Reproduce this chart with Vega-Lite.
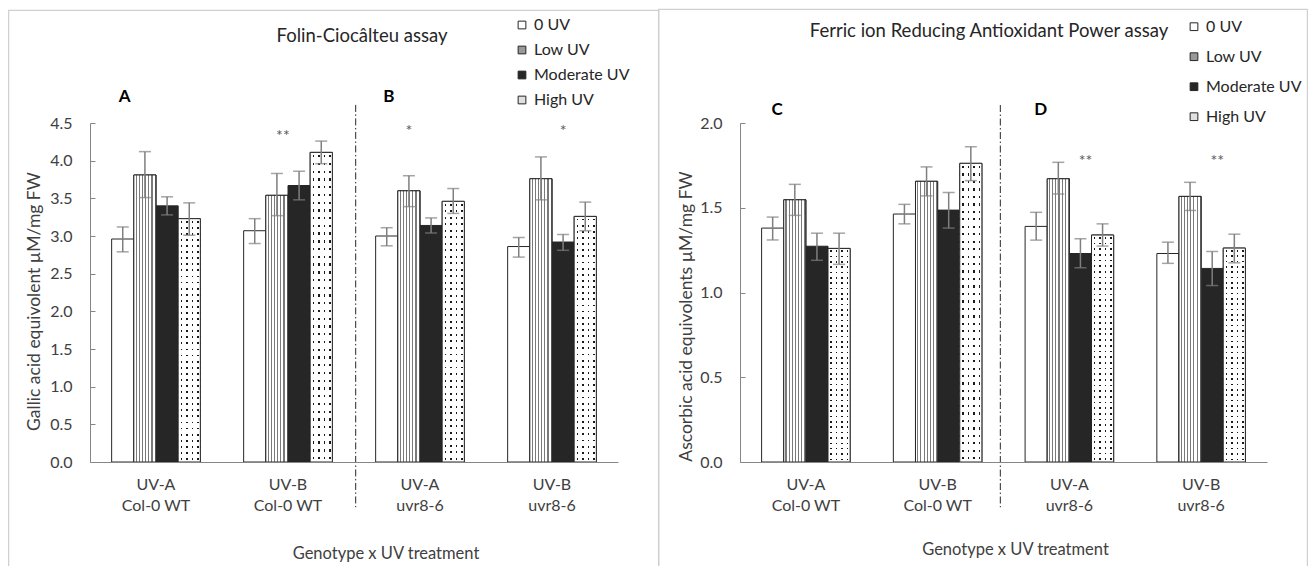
{
"$schema":"https://vega.github.io/schema/vega-lite/v6.json",
"background":"white",
"padding":{"left":8,"top":8,"right":0,"bottom":0},
"spacing":122,
"bounds":"flush",
"resolve":{"scale":{"x":"independent","y":"independent","xOffset":"independent","fill":"independent"},"legend":{"fill":"independent"}},
"config":{
 "font":"Lato",
 "view":{"stroke":null},
 "title":{"fontSize":18.5,"fontWeight":"normal","color":"#262626","font":"Lato"},
 "axis":{"grid":false,"domainColor":"#868686","domainWidth":1,"tickColor":"#868686","labelColor":"#404040","titleColor":"#404040","labelFontSize":16,"titleFontSize":16.5,"titleFontWeight":"normal","labelFont":"Lato","titleFont":"Lato","labelOverlap":false},
 "axisX":{"ticks":false,"labelAngle":0,"labelPadding":14,"labelLineHeight":21.7,"titleBaseline":"middle"},
 "axisY":{"tickSize":-5,"labelPadding":23,"titleBaseline":"middle","titleFontSize":17.5},
 "legend":{"labelFontSize":16,"labelColor":"#262626","labelFont":"Lato","symbolType":"square","symbolSize":60,"symbolStrokeColor":"#262626","symbolStrokeWidth":1,"labelOffset":4}
},
"datasets":{
"fc":[
{"group":"UV-A|Col-0 WT","treatment":"0 UV","value":2.96,"lo":2.79,"hi":3.12},
{"group":"UV-A|Col-0 WT","treatment":"Low UV","value":3.81,"lo":3.51,"hi":4.12},
{"group":"UV-A|Col-0 WT","treatment":"Moderate UV","value":3.40,"lo":3.28,"hi":3.52},
{"group":"UV-A|Col-0 WT","treatment":"High UV","value":3.23,"lo":3.01,"hi":3.44},
{"group":"UV-B|Col-0 WT","treatment":"0 UV","value":3.07,"lo":2.90,"hi":3.23},
{"group":"UV-B|Col-0 WT","treatment":"Low UV","value":3.54,"lo":3.27,"hi":3.83},
{"group":"UV-B|Col-0 WT","treatment":"Moderate UV","value":3.67,"lo":3.48,"hi":3.86},
{"group":"UV-B|Col-0 WT","treatment":"High UV","value":4.11,"lo":3.96,"hi":4.26},
{"group":"UV-A|uvr8-6","treatment":"0 UV","value":3.00,"lo":2.87,"hi":3.11},
{"group":"UV-A|uvr8-6","treatment":"Low UV","value":3.60,"lo":3.39,"hi":3.80},
{"group":"UV-A|uvr8-6","treatment":"Moderate UV","value":3.14,"lo":3.04,"hi":3.24},
{"group":"UV-A|uvr8-6","treatment":"High UV","value":3.46,"lo":3.30,"hi":3.63},
{"group":"UV-B|uvr8-6","treatment":"0 UV","value":2.86,"lo":2.72,"hi":2.98},
{"group":"UV-B|uvr8-6","treatment":"Low UV","value":3.76,"lo":3.48,"hi":4.05},
{"group":"UV-B|uvr8-6","treatment":"Moderate UV","value":2.92,"lo":2.81,"hi":3.02},
{"group":"UV-B|uvr8-6","treatment":"High UV","value":3.26,"lo":3.07,"hi":3.45}
],
"frap":[
{"group":"UV-A|Col-0 WT","treatment":"0 UV","value":1.38,"lo":1.31,"hi":1.445},
{"group":"UV-A|Col-0 WT","treatment":"Low UV","value":1.547,"lo":1.455,"hi":1.638},
{"group":"UV-A|Col-0 WT","treatment":"Moderate UV","value":1.273,"lo":1.19,"hi":1.35},
{"group":"UV-A|Col-0 WT","treatment":"High UV","value":1.26,"lo":1.166,"hi":1.35},
{"group":"UV-B|Col-0 WT","treatment":"0 UV","value":1.463,"lo":1.405,"hi":1.52},
{"group":"UV-B|Col-0 WT","treatment":"Low UV","value":1.656,"lo":1.57,"hi":1.741},
{"group":"UV-B|Col-0 WT","treatment":"Moderate UV","value":1.486,"lo":1.38,"hi":1.59},
{"group":"UV-B|Col-0 WT","treatment":"High UV","value":1.762,"lo":1.66,"hi":1.86},
{"group":"UV-A|uvr8-6","treatment":"0 UV","value":1.39,"lo":1.309,"hi":1.473},
{"group":"UV-A|uvr8-6","treatment":"Low UV","value":1.671,"lo":1.581,"hi":1.768},
{"group":"UV-A|uvr8-6","treatment":"Moderate UV","value":1.23,"lo":1.146,"hi":1.317},
{"group":"UV-A|uvr8-6","treatment":"High UV","value":1.339,"lo":1.274,"hi":1.405},
{"group":"UV-B|uvr8-6","treatment":"0 UV","value":1.23,"lo":1.172,"hi":1.297},
{"group":"UV-B|uvr8-6","treatment":"Low UV","value":1.567,"lo":1.484,"hi":1.65},
{"group":"UV-B|uvr8-6","treatment":"Moderate UV","value":1.142,"lo":1.041,"hi":1.242},
{"group":"UV-B|uvr8-6","treatment":"High UV","value":1.262,"lo":1.175,"hi":1.344}
]
},
"hconcat":[
{
 "width":528,"height":339,
 "title":{"text":"Folin-Ciocâlteu assay","frame":"group","anchor":"middle","dx":8,"offset":-35.5},
 "encoding":{"x":{"field":"group","type":"nominal","title":"Genotype x UV treatment","scale":{"domain":["UV-A|Col-0 WT","UV-B|Col-0 WT","UV-A|uvr8-6","UV-B|uvr8-6"],"paddingInner":0.328,"paddingOuter":0.164},"axis":{"labelExpr":"split(datum.label, '|')","titleX":295.5,"titleY":91}}},
 "layer":[
  {"data":{"values":[{}]},"mark":{"type":"rect","filled":false,"stroke":"#cfcfcf","strokeWidth":1.2},
   "encoding":{"x":{"datum":"UV-A|Col-0 WT","type":"nominal","bandPosition":-1.161,"title":"Genotype x UV treatment"},"x2":{"datum":"UV-B|uvr8-6","bandPosition":1.703},"y":{"datum":5.996,"type":"quantitative","title":"Gallic acid equivolent  µM/mg FW"},"y2":{"datum":-1.84}}},
  {"data":{"name":"fc"},"mark":{"type":"bar","stroke":"#262626","strokeWidth":1},
   "encoding":{
    "xOffset":{"field":"treatment","type":"nominal","scale":{"domain":["0 UV","Low UV","Moderate UV","High UV"],"paddingInner":0,"paddingOuter":0}},
    "y":{"field":"value","type":"quantitative","title":"Gallic acid equivolent  µM/mg FW","scale":{"domain":[0,4.5],"nice":false},"axis":{"values":[0,0.5,1,1.5,2,2.5,3,3.5,4,4.5],"tickCount":12,"format":".1f","labelOverlap":false,"titleX":-56,"titleY":178}},
    "fill":{"field":"treatment","type":"nominal","scale":{"domain":["0 UV","Low UV","Moderate UV","High UV"],"range":["#ffffff","#999999","#262626","#e0e0e0"]},"legend":{"orient":"none","legendX":424,"legendY":-106,"title":null,"rowPadding":9}}
   }},
  {"data":{"name":"fc"},"transform":[{"filter":"datum.treatment === 'Low UV'"}],
   "mark":{"type":"bar","stroke":"#262626","strokeWidth":1,"fill":{"gradient":"linear","x1":0,"y1":0,"x2":1,"y2":0,"stops":[
{"offset":0,"color":"#ffffff"},
{"offset":0.079,"color":"#ffffff"},{"offset":0.079,"color":"#7a7a7a"},{"offset":0.129,"color":"#7a7a7a"},{"offset":0.129,"color":"#ffffff"},
{"offset":0.221,"color":"#ffffff"},{"offset":0.221,"color":"#7a7a7a"},{"offset":0.271,"color":"#7a7a7a"},{"offset":0.271,"color":"#ffffff"},
{"offset":0.364,"color":"#ffffff"},{"offset":0.364,"color":"#7a7a7a"},{"offset":0.414,"color":"#7a7a7a"},{"offset":0.414,"color":"#ffffff"},
{"offset":0.507,"color":"#ffffff"},{"offset":0.507,"color":"#7a7a7a"},{"offset":0.557,"color":"#7a7a7a"},{"offset":0.557,"color":"#ffffff"},
{"offset":0.650,"color":"#ffffff"},{"offset":0.650,"color":"#7a7a7a"},{"offset":0.700,"color":"#7a7a7a"},{"offset":0.700,"color":"#ffffff"},
{"offset":0.793,"color":"#ffffff"},{"offset":0.793,"color":"#7a7a7a"},{"offset":0.843,"color":"#7a7a7a"},{"offset":0.843,"color":"#ffffff"},
{"offset":0.936,"color":"#ffffff"},{"offset":0.936,"color":"#7a7a7a"},{"offset":0.986,"color":"#7a7a7a"},{"offset":0.986,"color":"#ffffff"},
{"offset":1,"color":"#ffffff"}]}},
   "encoding":{"xOffset":{"field":"treatment","type":"nominal"},"y":{"field":"value","type":"quantitative","title":"Gallic acid equivolent  µM/mg FW"}}},
  {"data":{"name":"fc"},"transform":[{"filter":"datum.treatment === 'High UV'"}],
   "mark":{"type":"bar","strokeWidth":0,"fill":{"gradient":"linear","x1":0,"y1":0,"x2":1,"y2":0,"stops":[
{"offset":0,"color":"#ffffff"},
{"offset":0.105,"color":"#ffffff"},{"offset":0.105,"color":"#1a1a1a"},{"offset":0.175,"color":"#1a1a1a"},{"offset":0.175,"color":"#ffffff"},
{"offset":0.355,"color":"#ffffff"},{"offset":0.355,"color":"#1a1a1a"},{"offset":0.425,"color":"#1a1a1a"},{"offset":0.425,"color":"#ffffff"},
{"offset":0.605,"color":"#ffffff"},{"offset":0.605,"color":"#1a1a1a"},{"offset":0.675,"color":"#1a1a1a"},{"offset":0.675,"color":"#ffffff"},
{"offset":0.855,"color":"#ffffff"},{"offset":0.855,"color":"#1a1a1a"},{"offset":0.925,"color":"#1a1a1a"},{"offset":0.925,"color":"#ffffff"},
{"offset":1,"color":"#ffffff"}]}},
   "encoding":{"xOffset":{"field":"treatment","type":"nominal"},"y":{"field":"value","type":"quantitative","title":"Gallic acid equivolent  µM/mg FW"}}},
  {"data":{"name":"fc"},"transform":[{"filter":"datum.treatment === 'High UV'"}],
   "mark":{"type":"bar","stroke":"#262626","strokeWidth":1,"fill":{"gradient":"linear","x1":0,"y1":0,"x2":0,"y2":1,"stops":[
{"offset":0,"color":"#ffffff"},
{"offset":0.00875,"color":"#ffffff"},{"offset":0.00875,"color":"rgba(255,255,255,0)"},{"offset":0.01625,"color":"rgba(255,255,255,0)"},{"offset":0.01625,"color":"#ffffff"},
{"offset":0.03375,"color":"#ffffff"},{"offset":0.03375,"color":"rgba(255,255,255,0)"},{"offset":0.04125,"color":"rgba(255,255,255,0)"},{"offset":0.04125,"color":"#ffffff"},
{"offset":0.05875,"color":"#ffffff"},{"offset":0.05875,"color":"rgba(255,255,255,0)"},{"offset":0.06625,"color":"rgba(255,255,255,0)"},{"offset":0.06625,"color":"#ffffff"},
{"offset":0.08375,"color":"#ffffff"},{"offset":0.08375,"color":"rgba(255,255,255,0)"},{"offset":0.09125,"color":"rgba(255,255,255,0)"},{"offset":0.09125,"color":"#ffffff"},
{"offset":0.10875,"color":"#ffffff"},{"offset":0.10875,"color":"rgba(255,255,255,0)"},{"offset":0.11625,"color":"rgba(255,255,255,0)"},{"offset":0.11625,"color":"#ffffff"},
{"offset":0.13375,"color":"#ffffff"},{"offset":0.13375,"color":"rgba(255,255,255,0)"},{"offset":0.14125,"color":"rgba(255,255,255,0)"},{"offset":0.14125,"color":"#ffffff"},
{"offset":0.15875,"color":"#ffffff"},{"offset":0.15875,"color":"rgba(255,255,255,0)"},{"offset":0.16625,"color":"rgba(255,255,255,0)"},{"offset":0.16625,"color":"#ffffff"},
{"offset":0.18375,"color":"#ffffff"},{"offset":0.18375,"color":"rgba(255,255,255,0)"},{"offset":0.19125,"color":"rgba(255,255,255,0)"},{"offset":0.19125,"color":"#ffffff"},
{"offset":0.20875,"color":"#ffffff"},{"offset":0.20875,"color":"rgba(255,255,255,0)"},{"offset":0.21625,"color":"rgba(255,255,255,0)"},{"offset":0.21625,"color":"#ffffff"},
{"offset":0.23375,"color":"#ffffff"},{"offset":0.23375,"color":"rgba(255,255,255,0)"},{"offset":0.24125,"color":"rgba(255,255,255,0)"},{"offset":0.24125,"color":"#ffffff"},
{"offset":0.25875,"color":"#ffffff"},{"offset":0.25875,"color":"rgba(255,255,255,0)"},{"offset":0.26625,"color":"rgba(255,255,255,0)"},{"offset":0.26625,"color":"#ffffff"},
{"offset":0.28375,"color":"#ffffff"},{"offset":0.28375,"color":"rgba(255,255,255,0)"},{"offset":0.29125,"color":"rgba(255,255,255,0)"},{"offset":0.29125,"color":"#ffffff"},
{"offset":0.30875,"color":"#ffffff"},{"offset":0.30875,"color":"rgba(255,255,255,0)"},{"offset":0.31625,"color":"rgba(255,255,255,0)"},{"offset":0.31625,"color":"#ffffff"},
{"offset":0.33375,"color":"#ffffff"},{"offset":0.33375,"color":"rgba(255,255,255,0)"},{"offset":0.34125,"color":"rgba(255,255,255,0)"},{"offset":0.34125,"color":"#ffffff"},
{"offset":0.35875,"color":"#ffffff"},{"offset":0.35875,"color":"rgba(255,255,255,0)"},{"offset":0.36625,"color":"rgba(255,255,255,0)"},{"offset":0.36625,"color":"#ffffff"},
{"offset":0.38375,"color":"#ffffff"},{"offset":0.38375,"color":"rgba(255,255,255,0)"},{"offset":0.39125,"color":"rgba(255,255,255,0)"},{"offset":0.39125,"color":"#ffffff"},
{"offset":0.40875,"color":"#ffffff"},{"offset":0.40875,"color":"rgba(255,255,255,0)"},{"offset":0.41625,"color":"rgba(255,255,255,0)"},{"offset":0.41625,"color":"#ffffff"},
{"offset":0.43375,"color":"#ffffff"},{"offset":0.43375,"color":"rgba(255,255,255,0)"},{"offset":0.44125,"color":"rgba(255,255,255,0)"},{"offset":0.44125,"color":"#ffffff"},
{"offset":0.45875,"color":"#ffffff"},{"offset":0.45875,"color":"rgba(255,255,255,0)"},{"offset":0.46625,"color":"rgba(255,255,255,0)"},{"offset":0.46625,"color":"#ffffff"},
{"offset":0.48375,"color":"#ffffff"},{"offset":0.48375,"color":"rgba(255,255,255,0)"},{"offset":0.49125,"color":"rgba(255,255,255,0)"},{"offset":0.49125,"color":"#ffffff"},
{"offset":0.50875,"color":"#ffffff"},{"offset":0.50875,"color":"rgba(255,255,255,0)"},{"offset":0.51625,"color":"rgba(255,255,255,0)"},{"offset":0.51625,"color":"#ffffff"},
{"offset":0.53375,"color":"#ffffff"},{"offset":0.53375,"color":"rgba(255,255,255,0)"},{"offset":0.54125,"color":"rgba(255,255,255,0)"},{"offset":0.54125,"color":"#ffffff"},
{"offset":0.55875,"color":"#ffffff"},{"offset":0.55875,"color":"rgba(255,255,255,0)"},{"offset":0.56625,"color":"rgba(255,255,255,0)"},{"offset":0.56625,"color":"#ffffff"},
{"offset":0.58375,"color":"#ffffff"},{"offset":0.58375,"color":"rgba(255,255,255,0)"},{"offset":0.59125,"color":"rgba(255,255,255,0)"},{"offset":0.59125,"color":"#ffffff"},
{"offset":0.60875,"color":"#ffffff"},{"offset":0.60875,"color":"rgba(255,255,255,0)"},{"offset":0.61625,"color":"rgba(255,255,255,0)"},{"offset":0.61625,"color":"#ffffff"},
{"offset":0.63375,"color":"#ffffff"},{"offset":0.63375,"color":"rgba(255,255,255,0)"},{"offset":0.64125,"color":"rgba(255,255,255,0)"},{"offset":0.64125,"color":"#ffffff"},
{"offset":0.65875,"color":"#ffffff"},{"offset":0.65875,"color":"rgba(255,255,255,0)"},{"offset":0.66625,"color":"rgba(255,255,255,0)"},{"offset":0.66625,"color":"#ffffff"},
{"offset":0.68375,"color":"#ffffff"},{"offset":0.68375,"color":"rgba(255,255,255,0)"},{"offset":0.69125,"color":"rgba(255,255,255,0)"},{"offset":0.69125,"color":"#ffffff"},
{"offset":0.70875,"color":"#ffffff"},{"offset":0.70875,"color":"rgba(255,255,255,0)"},{"offset":0.71625,"color":"rgba(255,255,255,0)"},{"offset":0.71625,"color":"#ffffff"},
{"offset":0.73375,"color":"#ffffff"},{"offset":0.73375,"color":"rgba(255,255,255,0)"},{"offset":0.74125,"color":"rgba(255,255,255,0)"},{"offset":0.74125,"color":"#ffffff"},
{"offset":0.75875,"color":"#ffffff"},{"offset":0.75875,"color":"rgba(255,255,255,0)"},{"offset":0.76625,"color":"rgba(255,255,255,0)"},{"offset":0.76625,"color":"#ffffff"},
{"offset":0.78375,"color":"#ffffff"},{"offset":0.78375,"color":"rgba(255,255,255,0)"},{"offset":0.79125,"color":"rgba(255,255,255,0)"},{"offset":0.79125,"color":"#ffffff"},
{"offset":0.80875,"color":"#ffffff"},{"offset":0.80875,"color":"rgba(255,255,255,0)"},{"offset":0.81625,"color":"rgba(255,255,255,0)"},{"offset":0.81625,"color":"#ffffff"},
{"offset":0.83375,"color":"#ffffff"},{"offset":0.83375,"color":"rgba(255,255,255,0)"},{"offset":0.84125,"color":"rgba(255,255,255,0)"},{"offset":0.84125,"color":"#ffffff"},
{"offset":0.85875,"color":"#ffffff"},{"offset":0.85875,"color":"rgba(255,255,255,0)"},{"offset":0.86625,"color":"rgba(255,255,255,0)"},{"offset":0.86625,"color":"#ffffff"},
{"offset":0.88375,"color":"#ffffff"},{"offset":0.88375,"color":"rgba(255,255,255,0)"},{"offset":0.89125,"color":"rgba(255,255,255,0)"},{"offset":0.89125,"color":"#ffffff"},
{"offset":0.90875,"color":"#ffffff"},{"offset":0.90875,"color":"rgba(255,255,255,0)"},{"offset":0.91625,"color":"rgba(255,255,255,0)"},{"offset":0.91625,"color":"#ffffff"},
{"offset":0.93375,"color":"#ffffff"},{"offset":0.93375,"color":"rgba(255,255,255,0)"},{"offset":0.94125,"color":"rgba(255,255,255,0)"},{"offset":0.94125,"color":"#ffffff"},
{"offset":0.95875,"color":"#ffffff"},{"offset":0.95875,"color":"rgba(255,255,255,0)"},{"offset":0.96625,"color":"rgba(255,255,255,0)"},{"offset":0.96625,"color":"#ffffff"},
{"offset":0.98375,"color":"#ffffff"},{"offset":0.98375,"color":"rgba(255,255,255,0)"},{"offset":0.99125,"color":"rgba(255,255,255,0)"},{"offset":0.99125,"color":"#ffffff"},
{"offset":1,"color":"#ffffff"}]}},
   "encoding":{"xOffset":{"field":"treatment","type":"nominal"},"y":{"field":"value","type":"quantitative","title":"Gallic acid equivolent  µM/mg FW"}}},
  {"data":{"name":"fc"},"mark":{"type":"rule","color":"#7f7f7f","strokeWidth":1.5},
   "encoding":{"xOffset":{"field":"treatment","type":"nominal"},"y":{"field":"lo","type":"quantitative","title":"Gallic acid equivolent  µM/mg FW"},"y2":{"field":"hi"}}},
  {"data":{"name":"fc"},"mark":{"type":"tick","color":"#7f7f7f","thickness":1.5,"size":12},
   "encoding":{"xOffset":{"field":"treatment","type":"nominal"},"y":{"field":"lo","type":"quantitative","title":"Gallic acid equivolent  µM/mg FW"}}},
  {"data":{"name":"fc"},"mark":{"type":"tick","color":"#7f7f7f","thickness":1.5,"size":12},
   "encoding":{"xOffset":{"field":"treatment","type":"nominal"},"y":{"field":"hi","type":"quantitative","title":"Gallic acid equivolent  µM/mg FW"}}},
  {"data":{"values":[{}]},"mark":{"type":"rule","color":"#262626","strokeWidth":1,"strokeDash":[7,2.5,1.5,2.5]},
   "encoding":{"x":{"datum":"UV-A|uvr8-6","type":"nominal","bandPosition":-0.225,"title":"Genotype x UV treatment"},"y":{"datum":4.74,"type":"quantitative","title":"Gallic acid equivolent  µM/mg FW"},"y2":{"datum":-0.6}}},
  {"data":{"values":[{"group":"UV-A|Col-0 WT","treatment":"0 UV","label":"A"},{"group":"UV-A|uvr8-6","treatment":"0 UV","label":"B"}]},
   "mark":{"type":"text","fontSize":17,"fontWeight":"bold","color":"#000000","baseline":"middle","dx":2},
   "encoding":{"xOffset":{"field":"treatment","type":"nominal"},"y":{"datum":4.844,"type":"quantitative","title":"Gallic acid equivolent  µM/mg FW"},"text":{"field":"label"}}},
  {"data":{"values":[{"group":"UV-B|Col-0 WT","treatment":"Low UV","label":"**"}]},
   "mark":{"type":"text","fontSize":16,"color":"#595959","baseline":"middle","dx":6},
   "encoding":{"xOffset":{"field":"treatment","type":"nominal"},"y":{"datum":4.333,"type":"quantitative","title":"Gallic acid equivolent  µM/mg FW"},"text":{"field":"label"}}},
  {"data":{"values":[{"group":"UV-A|uvr8-6","treatment":"Low UV","label":"*"},{"group":"UV-B|uvr8-6","treatment":"Moderate UV","label":"*"}]},
   "mark":{"type":"text","fontSize":16,"color":"#595959","baseline":"middle"},
   "encoding":{"xOffset":{"field":"treatment","type":"nominal"},"y":{"datum":4.40,"type":"quantitative","title":"Gallic acid equivolent  µM/mg FW"},"text":{"field":"label"}}}
 ]
},
{
 "width":527,"height":339,
 "title":{"text":"Ferric ion Reducing Antioxidant Power assay","frame":"group","anchor":"middle","dx":-14.5,"offset":-31.7},
 "encoding":{"x":{"field":"group","type":"nominal","title":"Genotype x UV treatment","scale":{"domain":["UV-A|Col-0 WT","UV-B|Col-0 WT","UV-A|uvr8-6","UV-B|uvr8-6"],"paddingInner":0.328,"paddingOuter":0.164},"axis":{"labelExpr":"split(datum.label, '|')","titleX":275,"titleY":87}}},
 "layer":[
  {"data":{"values":[{}]},"mark":{"type":"rect","filled":false,"stroke":"#cfcfcf","strokeWidth":1.2},
   "encoding":{"x":{"datum":"UV-A|Col-0 WT","type":"nominal","bandPosition":-1.163,"title":"Genotype x UV treatment"},"x2":{"datum":"UV-B|uvr8-6","bandPosition":1.70},"y":{"datum":2.67,"type":"quantitative","title":"Ascorbic acid equivolents µM/mg FW"},"y2":{"datum":-0.82}}},
  {"data":{"name":"frap"},"mark":{"type":"bar","stroke":"#262626","strokeWidth":1},
   "encoding":{
    "xOffset":{"field":"treatment","type":"nominal","scale":{"domain":["0 UV","Low UV","Moderate UV","High UV"],"paddingInner":0,"paddingOuter":0}},
    "y":{"field":"value","type":"quantitative","title":"Ascorbic acid equivolents µM/mg FW","scale":{"domain":[0,2],"nice":false},"axis":{"values":[0,0.5,1,1.5,2],"tickCount":12,"format":".1f","labelOverlap":false,"titleX":-53.6,"titleY":193}},
    "fill":{"field":"treatment","type":"nominal","scale":{"domain":["0 UV","Low UV","Moderate UV","High UV"],"range":["#ffffff","#999999","#262626","#e0e0e0"]},"legend":{"orient":"none","legendX":446,"legendY":-104.3,"title":null,"rowPadding":14}}
   }},
  {"data":{"name":"frap"},"transform":[{"filter":"datum.treatment === 'Low UV'"}],
   "mark":{"type":"bar","stroke":"#262626","strokeWidth":1,"fill":{"gradient":"linear","x1":0,"y1":0,"x2":1,"y2":0,"stops":[
{"offset":0,"color":"#ffffff"},
{"offset":0.079,"color":"#ffffff"},{"offset":0.079,"color":"#7a7a7a"},{"offset":0.129,"color":"#7a7a7a"},{"offset":0.129,"color":"#ffffff"},
{"offset":0.221,"color":"#ffffff"},{"offset":0.221,"color":"#7a7a7a"},{"offset":0.271,"color":"#7a7a7a"},{"offset":0.271,"color":"#ffffff"},
{"offset":0.364,"color":"#ffffff"},{"offset":0.364,"color":"#7a7a7a"},{"offset":0.414,"color":"#7a7a7a"},{"offset":0.414,"color":"#ffffff"},
{"offset":0.507,"color":"#ffffff"},{"offset":0.507,"color":"#7a7a7a"},{"offset":0.557,"color":"#7a7a7a"},{"offset":0.557,"color":"#ffffff"},
{"offset":0.650,"color":"#ffffff"},{"offset":0.650,"color":"#7a7a7a"},{"offset":0.700,"color":"#7a7a7a"},{"offset":0.700,"color":"#ffffff"},
{"offset":0.793,"color":"#ffffff"},{"offset":0.793,"color":"#7a7a7a"},{"offset":0.843,"color":"#7a7a7a"},{"offset":0.843,"color":"#ffffff"},
{"offset":0.936,"color":"#ffffff"},{"offset":0.936,"color":"#7a7a7a"},{"offset":0.986,"color":"#7a7a7a"},{"offset":0.986,"color":"#ffffff"},
{"offset":1,"color":"#ffffff"}]}},
   "encoding":{"xOffset":{"field":"treatment","type":"nominal"},"y":{"field":"value","type":"quantitative","title":"Ascorbic acid equivolents µM/mg FW"}}},
  {"data":{"name":"frap"},"transform":[{"filter":"datum.treatment === 'High UV'"}],
   "mark":{"type":"bar","strokeWidth":0,"fill":{"gradient":"linear","x1":0,"y1":0,"x2":1,"y2":0,"stops":[
{"offset":0,"color":"#ffffff"},
{"offset":0.105,"color":"#ffffff"},{"offset":0.105,"color":"#1a1a1a"},{"offset":0.175,"color":"#1a1a1a"},{"offset":0.175,"color":"#ffffff"},
{"offset":0.355,"color":"#ffffff"},{"offset":0.355,"color":"#1a1a1a"},{"offset":0.425,"color":"#1a1a1a"},{"offset":0.425,"color":"#ffffff"},
{"offset":0.605,"color":"#ffffff"},{"offset":0.605,"color":"#1a1a1a"},{"offset":0.675,"color":"#1a1a1a"},{"offset":0.675,"color":"#ffffff"},
{"offset":0.855,"color":"#ffffff"},{"offset":0.855,"color":"#1a1a1a"},{"offset":0.925,"color":"#1a1a1a"},{"offset":0.925,"color":"#ffffff"},
{"offset":1,"color":"#ffffff"}]}},
   "encoding":{"xOffset":{"field":"treatment","type":"nominal"},"y":{"field":"value","type":"quantitative","title":"Ascorbic acid equivolents µM/mg FW"}}},
  {"data":{"name":"frap"},"transform":[{"filter":"datum.treatment === 'High UV'"}],
   "mark":{"type":"bar","stroke":"#262626","strokeWidth":1,"fill":{"gradient":"linear","x1":0,"y1":0,"x2":0,"y2":1,"stops":[
{"offset":0,"color":"#ffffff"},
{"offset":0.00875,"color":"#ffffff"},{"offset":0.00875,"color":"rgba(255,255,255,0)"},{"offset":0.01625,"color":"rgba(255,255,255,0)"},{"offset":0.01625,"color":"#ffffff"},
{"offset":0.03375,"color":"#ffffff"},{"offset":0.03375,"color":"rgba(255,255,255,0)"},{"offset":0.04125,"color":"rgba(255,255,255,0)"},{"offset":0.04125,"color":"#ffffff"},
{"offset":0.05875,"color":"#ffffff"},{"offset":0.05875,"color":"rgba(255,255,255,0)"},{"offset":0.06625,"color":"rgba(255,255,255,0)"},{"offset":0.06625,"color":"#ffffff"},
{"offset":0.08375,"color":"#ffffff"},{"offset":0.08375,"color":"rgba(255,255,255,0)"},{"offset":0.09125,"color":"rgba(255,255,255,0)"},{"offset":0.09125,"color":"#ffffff"},
{"offset":0.10875,"color":"#ffffff"},{"offset":0.10875,"color":"rgba(255,255,255,0)"},{"offset":0.11625,"color":"rgba(255,255,255,0)"},{"offset":0.11625,"color":"#ffffff"},
{"offset":0.13375,"color":"#ffffff"},{"offset":0.13375,"color":"rgba(255,255,255,0)"},{"offset":0.14125,"color":"rgba(255,255,255,0)"},{"offset":0.14125,"color":"#ffffff"},
{"offset":0.15875,"color":"#ffffff"},{"offset":0.15875,"color":"rgba(255,255,255,0)"},{"offset":0.16625,"color":"rgba(255,255,255,0)"},{"offset":0.16625,"color":"#ffffff"},
{"offset":0.18375,"color":"#ffffff"},{"offset":0.18375,"color":"rgba(255,255,255,0)"},{"offset":0.19125,"color":"rgba(255,255,255,0)"},{"offset":0.19125,"color":"#ffffff"},
{"offset":0.20875,"color":"#ffffff"},{"offset":0.20875,"color":"rgba(255,255,255,0)"},{"offset":0.21625,"color":"rgba(255,255,255,0)"},{"offset":0.21625,"color":"#ffffff"},
{"offset":0.23375,"color":"#ffffff"},{"offset":0.23375,"color":"rgba(255,255,255,0)"},{"offset":0.24125,"color":"rgba(255,255,255,0)"},{"offset":0.24125,"color":"#ffffff"},
{"offset":0.25875,"color":"#ffffff"},{"offset":0.25875,"color":"rgba(255,255,255,0)"},{"offset":0.26625,"color":"rgba(255,255,255,0)"},{"offset":0.26625,"color":"#ffffff"},
{"offset":0.28375,"color":"#ffffff"},{"offset":0.28375,"color":"rgba(255,255,255,0)"},{"offset":0.29125,"color":"rgba(255,255,255,0)"},{"offset":0.29125,"color":"#ffffff"},
{"offset":0.30875,"color":"#ffffff"},{"offset":0.30875,"color":"rgba(255,255,255,0)"},{"offset":0.31625,"color":"rgba(255,255,255,0)"},{"offset":0.31625,"color":"#ffffff"},
{"offset":0.33375,"color":"#ffffff"},{"offset":0.33375,"color":"rgba(255,255,255,0)"},{"offset":0.34125,"color":"rgba(255,255,255,0)"},{"offset":0.34125,"color":"#ffffff"},
{"offset":0.35875,"color":"#ffffff"},{"offset":0.35875,"color":"rgba(255,255,255,0)"},{"offset":0.36625,"color":"rgba(255,255,255,0)"},{"offset":0.36625,"color":"#ffffff"},
{"offset":0.38375,"color":"#ffffff"},{"offset":0.38375,"color":"rgba(255,255,255,0)"},{"offset":0.39125,"color":"rgba(255,255,255,0)"},{"offset":0.39125,"color":"#ffffff"},
{"offset":0.40875,"color":"#ffffff"},{"offset":0.40875,"color":"rgba(255,255,255,0)"},{"offset":0.41625,"color":"rgba(255,255,255,0)"},{"offset":0.41625,"color":"#ffffff"},
{"offset":0.43375,"color":"#ffffff"},{"offset":0.43375,"color":"rgba(255,255,255,0)"},{"offset":0.44125,"color":"rgba(255,255,255,0)"},{"offset":0.44125,"color":"#ffffff"},
{"offset":0.45875,"color":"#ffffff"},{"offset":0.45875,"color":"rgba(255,255,255,0)"},{"offset":0.46625,"color":"rgba(255,255,255,0)"},{"offset":0.46625,"color":"#ffffff"},
{"offset":0.48375,"color":"#ffffff"},{"offset":0.48375,"color":"rgba(255,255,255,0)"},{"offset":0.49125,"color":"rgba(255,255,255,0)"},{"offset":0.49125,"color":"#ffffff"},
{"offset":0.50875,"color":"#ffffff"},{"offset":0.50875,"color":"rgba(255,255,255,0)"},{"offset":0.51625,"color":"rgba(255,255,255,0)"},{"offset":0.51625,"color":"#ffffff"},
{"offset":0.53375,"color":"#ffffff"},{"offset":0.53375,"color":"rgba(255,255,255,0)"},{"offset":0.54125,"color":"rgba(255,255,255,0)"},{"offset":0.54125,"color":"#ffffff"},
{"offset":0.55875,"color":"#ffffff"},{"offset":0.55875,"color":"rgba(255,255,255,0)"},{"offset":0.56625,"color":"rgba(255,255,255,0)"},{"offset":0.56625,"color":"#ffffff"},
{"offset":0.58375,"color":"#ffffff"},{"offset":0.58375,"color":"rgba(255,255,255,0)"},{"offset":0.59125,"color":"rgba(255,255,255,0)"},{"offset":0.59125,"color":"#ffffff"},
{"offset":0.60875,"color":"#ffffff"},{"offset":0.60875,"color":"rgba(255,255,255,0)"},{"offset":0.61625,"color":"rgba(255,255,255,0)"},{"offset":0.61625,"color":"#ffffff"},
{"offset":0.63375,"color":"#ffffff"},{"offset":0.63375,"color":"rgba(255,255,255,0)"},{"offset":0.64125,"color":"rgba(255,255,255,0)"},{"offset":0.64125,"color":"#ffffff"},
{"offset":0.65875,"color":"#ffffff"},{"offset":0.65875,"color":"rgba(255,255,255,0)"},{"offset":0.66625,"color":"rgba(255,255,255,0)"},{"offset":0.66625,"color":"#ffffff"},
{"offset":0.68375,"color":"#ffffff"},{"offset":0.68375,"color":"rgba(255,255,255,0)"},{"offset":0.69125,"color":"rgba(255,255,255,0)"},{"offset":0.69125,"color":"#ffffff"},
{"offset":0.70875,"color":"#ffffff"},{"offset":0.70875,"color":"rgba(255,255,255,0)"},{"offset":0.71625,"color":"rgba(255,255,255,0)"},{"offset":0.71625,"color":"#ffffff"},
{"offset":0.73375,"color":"#ffffff"},{"offset":0.73375,"color":"rgba(255,255,255,0)"},{"offset":0.74125,"color":"rgba(255,255,255,0)"},{"offset":0.74125,"color":"#ffffff"},
{"offset":0.75875,"color":"#ffffff"},{"offset":0.75875,"color":"rgba(255,255,255,0)"},{"offset":0.76625,"color":"rgba(255,255,255,0)"},{"offset":0.76625,"color":"#ffffff"},
{"offset":0.78375,"color":"#ffffff"},{"offset":0.78375,"color":"rgba(255,255,255,0)"},{"offset":0.79125,"color":"rgba(255,255,255,0)"},{"offset":0.79125,"color":"#ffffff"},
{"offset":0.80875,"color":"#ffffff"},{"offset":0.80875,"color":"rgba(255,255,255,0)"},{"offset":0.81625,"color":"rgba(255,255,255,0)"},{"offset":0.81625,"color":"#ffffff"},
{"offset":0.83375,"color":"#ffffff"},{"offset":0.83375,"color":"rgba(255,255,255,0)"},{"offset":0.84125,"color":"rgba(255,255,255,0)"},{"offset":0.84125,"color":"#ffffff"},
{"offset":0.85875,"color":"#ffffff"},{"offset":0.85875,"color":"rgba(255,255,255,0)"},{"offset":0.86625,"color":"rgba(255,255,255,0)"},{"offset":0.86625,"color":"#ffffff"},
{"offset":0.88375,"color":"#ffffff"},{"offset":0.88375,"color":"rgba(255,255,255,0)"},{"offset":0.89125,"color":"rgba(255,255,255,0)"},{"offset":0.89125,"color":"#ffffff"},
{"offset":0.90875,"color":"#ffffff"},{"offset":0.90875,"color":"rgba(255,255,255,0)"},{"offset":0.91625,"color":"rgba(255,255,255,0)"},{"offset":0.91625,"color":"#ffffff"},
{"offset":0.93375,"color":"#ffffff"},{"offset":0.93375,"color":"rgba(255,255,255,0)"},{"offset":0.94125,"color":"rgba(255,255,255,0)"},{"offset":0.94125,"color":"#ffffff"},
{"offset":0.95875,"color":"#ffffff"},{"offset":0.95875,"color":"rgba(255,255,255,0)"},{"offset":0.96625,"color":"rgba(255,255,255,0)"},{"offset":0.96625,"color":"#ffffff"},
{"offset":0.98375,"color":"#ffffff"},{"offset":0.98375,"color":"rgba(255,255,255,0)"},{"offset":0.99125,"color":"rgba(255,255,255,0)"},{"offset":0.99125,"color":"#ffffff"},
{"offset":1,"color":"#ffffff"}]}},
   "encoding":{"xOffset":{"field":"treatment","type":"nominal"},"y":{"field":"value","type":"quantitative","title":"Ascorbic acid equivolents µM/mg FW"}}},
  {"data":{"name":"frap"},"mark":{"type":"rule","color":"#7f7f7f","strokeWidth":1.5},
   "encoding":{"xOffset":{"field":"treatment","type":"nominal"},"y":{"field":"lo","type":"quantitative","title":"Ascorbic acid equivolents µM/mg FW"},"y2":{"field":"hi"}}},
  {"data":{"name":"frap"},"mark":{"type":"tick","color":"#7f7f7f","thickness":1.5,"size":12},
   "encoding":{"xOffset":{"field":"treatment","type":"nominal"},"y":{"field":"lo","type":"quantitative","title":"Ascorbic acid equivolents µM/mg FW"}}},
  {"data":{"name":"frap"},"mark":{"type":"tick","color":"#7f7f7f","thickness":1.5,"size":12},
   "encoding":{"xOffset":{"field":"treatment","type":"nominal"},"y":{"field":"hi","type":"quantitative","title":"Ascorbic acid equivolents µM/mg FW"}}},
  {"data":{"values":[{}]},"mark":{"type":"rule","color":"#262626","strokeWidth":1,"strokeDash":[7,2.5,1.5,2.5]},
   "encoding":{"x":{"datum":"UV-A|uvr8-6","type":"nominal","bandPosition":-0.28,"title":"Genotype x UV treatment"},"y":{"datum":2.106,"type":"quantitative","title":"Ascorbic acid equivolents µM/mg FW"},"y2":{"datum":-0.267}}},
  {"data":{"values":[{"group":"UV-A|Col-0 WT","treatment":"0 UV","label":"C"},{"group":"UV-A|uvr8-6","treatment":"0 UV","label":"D"}]},
   "mark":{"type":"text","fontSize":17,"fontWeight":"bold","color":"#000000","baseline":"middle","dx":4.5},
   "encoding":{"xOffset":{"field":"treatment","type":"nominal"},"y":{"datum":2.079,"type":"quantitative","title":"Ascorbic acid equivolents µM/mg FW"},"text":{"field":"label"}}},
  {"data":{"values":[{"group":"UV-A|uvr8-6","treatment":"Moderate UV","label":"**"},{"group":"UV-B|uvr8-6","treatment":"Moderate UV","label":"**"}]},
   "mark":{"type":"text","fontSize":16,"color":"#595959","baseline":"middle","dx":5},
   "encoding":{"xOffset":{"field":"treatment","type":"nominal"},"y":{"datum":1.775,"type":"quantitative","title":"Ascorbic acid equivolents µM/mg FW"},"text":{"field":"label"}}}
 ]
}
]
}
